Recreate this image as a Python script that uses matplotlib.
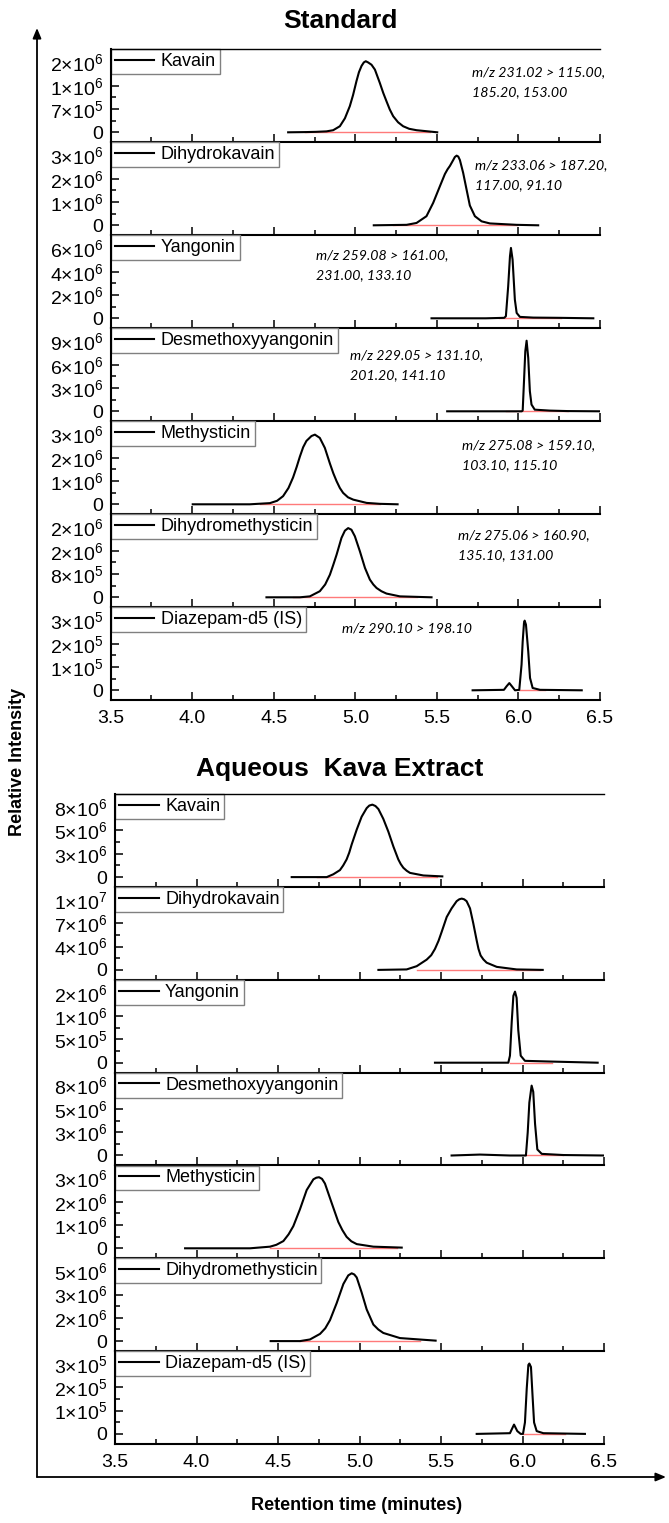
import numpy as np
import matplotlib
matplotlib.use("Agg")
import matplotlib.pyplot as plt
from matplotlib.patches import FancyArrowPatch
from matplotlib.ticker import FixedLocator, MultipleLocator

plt.rcParams['font.family'] = ['Liberation Sans', 'DejaVu Sans']
plt.rcParams['mathtext.fontset'] = 'custom'
plt.rcParams['mathtext.rm'] = 'Liberation Sans'
plt.rcParams['mathtext.it'] = 'Liberation Sans:italic'
plt.rcParams['mathtext.bf'] = 'Liberation Sans:bold'

# ---------------- data ----------------
compounds = ['Kavain', 'Dihydrokavain', 'Yangonin', 'Desmethoxyyangonin',
             'Methysticin', 'Dihydromethysticin', 'Diazepam-d5 (IS)']
section_titles = ['Standard', 'Aqueous  Kava Extract']
x_ticklabels = ['3.5', '4.0', '4.5', '5.0', '5.5', '6.0', '6.5']

# intensity per y-tick step for each panel
std_steps = [7e5, 1e6, 2e6, 3e6, 1e6, 8e5, 1e5]
ext_steps = [2.7e6, 3.5e6, 5.2e5, 2.7e6, 1e6, 1.7e6, 1e5]

std_yticklabels = [['0', '7×10^5', '1×10^6', '2×10^6'],
                   ['0', '1×10^6', '2×10^6', '3×10^6'],
                   ['0', '2×10^6', '4×10^6', '6×10^6'],
                   ['0', '3×10^6', '6×10^6', '9×10^6'],
                   ['0', '1×10^6', '2×10^6', '3×10^6'],
                   ['0', '8×10^5', '2×10^6', '2×10^6'],
                   ['0', '1×10^5', '2×10^5', '3×10^5']]
ext_yticklabels = [['0', '3×10^6', '5×10^6', '8×10^6'],
                   ['0', '4×10^6', '7×10^6', '1×10^7'],
                   ['0', '5×10^5', '1×10^6', '2×10^6'],
                   ['0', '3×10^6', '5×10^6', '8×10^6'],
                   ['0', '1×10^6', '2×10^6', '3×10^6'],
                   ['0', '2×10^6', '3×10^6', '5×10^6'],
                   ['0', '1×10^5', '2×10^5', '3×10^5']]

# retention time (min) and intensity (in tick steps)
kav_std_x = [4.588, 4.70, 4.76, 4.823, 4.864, 4.905, 4.936, 4.966, 4.986, 5.007, 5.022, 5.038, 5.052,
             5.064, 5.078, 5.099, 5.120, 5.150, 5.171, 5.191, 5.211, 5.232, 5.262, 5.293, 5.33,
             5.375, 5.502]
kav_std_y = [0.0, 0.01, 0.02, 0.04, 0.09, 0.26, 0.6, 1.12, 1.6, 2.2, 2.58, 2.85, 3.0,
             3.05, 3.0, 2.9, 2.69, 2.12, 1.69, 1.33, 0.98, 0.69, 0.43, 0.26, 0.15,
             0.09, 0.0]
dhk_std_x = [5.113, 5.314, 5.375, 5.436, 5.477, 5.518, 5.549, 5.565, 5.580, 5.600, 5.610, 5.621,
             5.631, 5.641, 5.661, 5.682, 5.702, 5.733, 5.774, 5.825, 5.989, 6.121]
dhk_std_y = [0.0, 0.02, 0.1, 0.39, 0.96, 1.67, 2.2, 2.4, 2.55, 2.8, 2.93, 2.99,
             2.95, 2.8, 2.25, 1.53, 0.85, 0.39, 0.17, 0.08, 0.02, 0.0]
yan_std_x = [5.467, 5.80, 5.913, 5.923, 5.937, 5.948, 5.954, 5.964, 5.978, 5.989, 6.009, 6.091, 6.25, 6.459]
yan_std_y = [0.0, 0.0, 0.02, 0.09, 1.37, 2.66, 3.02, 2.52, 0.8, 0.23, 0.06, 0.03, 0.02, 0.0]
dmy_std_x = [5.563, 5.90, 6.020, 6.026, 6.034, 6.042, 6.050, 6.060, 6.070, 6.080, 6.100, 6.192, 6.30, 6.50]
dmy_std_y = [0.0, 0.0, 0.0, 0.03, 1.29, 2.58, 3.03, 2.29, 0.86, 0.29, 0.07, 0.03, 0.01, 0.0]
met_std_x = [4.003, 4.353, 4.476, 4.52, 4.557, 4.59, 4.618, 4.64, 4.66, 4.68, 4.70, 4.731, 4.752,
             4.782, 4.813, 4.844, 4.865, 4.885, 4.905, 4.925, 4.955, 4.987, 5.069, 5.15, 5.259]
met_std_y = [0.0, 0.0, 0.05, 0.15, 0.35, 0.7, 1.15, 1.6, 2.05, 2.45, 2.72, 2.93, 2.99,
             2.85, 2.42, 1.75, 1.33, 0.99, 0.7, 0.49, 0.3, 0.2, 0.06, 0.02, 0.0]
dhm_std_x = [4.455, 4.66, 4.721, 4.782, 4.815, 4.844, 4.865, 4.885, 4.915, 4.936, 4.956, 4.976,
             4.997, 5.028, 5.059, 5.089, 5.11, 5.130, 5.16, 5.191, 5.273, 5.467]
dhm_std_y = [0.0, 0.0, 0.04, 0.26, 0.55, 0.97, 1.4, 1.83, 2.55, 2.86, 2.97, 2.9,
             2.62, 1.97, 1.26, 0.76, 0.55, 0.40, 0.26, 0.16, 0.04, 0.0]
dia_std_x = [5.719, 5.911, 5.927, 5.944, 5.960, 5.979, 6.005, 6.019, 6.026, 6.034, 6.038, 6.046,
             6.060, 6.071, 6.087, 6.132, 6.388]
dia_std_y = [0.0, 0.02, 0.17, 0.31, 0.17, 0.0, 0.02, 1.1, 2.1, 2.89, 2.99, 2.82,
             1.67, 0.53, 0.1, 0.02, 0.0]

kav_ext_x = [4.584, 4.799, 4.839, 4.880, 4.90, 4.921, 4.937, 4.952, 4.983, 5.013, 5.044, 5.060,
             5.079, 5.098, 5.116, 5.146, 5.177, 5.208, 5.238, 5.253, 5.269, 5.29, 5.310, 5.392, 5.508]
kav_ext_y = [0.0, 0.0, 0.12, 0.30, 0.5, 0.76, 1.05, 1.40, 2.04, 2.59, 2.96, 3.07,
             3.11, 3.05, 2.92, 2.50, 1.95, 1.31, 0.76, 0.56, 0.40, 0.27, 0.18, 0.07, 0.03]
dhk_ext_x = [5.116, 5.289, 5.351, 5.412, 5.44, 5.463, 5.485, 5.504, 5.535, 5.565, 5.596, 5.612,
             5.627, 5.642, 5.657, 5.678, 5.698, 5.719, 5.73, 5.743, 5.76, 5.780, 5.842, 5.964, 6.124]
dhk_ext_y = [0.0, 0.02, 0.16, 0.44, 0.63, 0.90, 1.25, 1.63, 2.27, 2.64, 2.95, 3.03,
             3.06, 3.03, 2.95, 2.64, 2.0, 1.26, 0.9, 0.62, 0.45, 0.31, 0.13, 0.02, 0.0]
yan_ext_x = [5.463, 5.913, 5.923, 5.934, 5.944, 5.954, 5.964, 5.974, 5.989, 6.015, 6.169, 6.461]
yan_ext_y = [0.0, 0.0, 0.30, 1.77, 2.87, 3.05, 2.78, 1.40, 0.30, 0.08, 0.05, 0.0]
dmy_ext_x = [5.565, 5.739, 5.923, 6.021, 6.032, 6.042, 6.056, 6.066, 6.077, 6.091, 6.118, 6.251, 6.50]
dmy_ext_y = [0.0, 0.04, 0.0, 0.0, 0.99, 2.27, 3.0, 2.73, 1.36, 0.26, 0.07, 0.02, 0.0]
met_ext_x = [3.93, 4.328, 4.451, 4.49, 4.533, 4.565, 4.594, 4.635, 4.676, 4.717, 4.735, 4.752,
             4.77, 4.788, 4.829, 4.870, 4.895, 4.921, 4.95, 4.983, 5.085, 5.259]
met_ext_y = [0.0, 0.0, 0.07, 0.15, 0.31, 0.6, 0.95, 1.68, 2.50, 2.96, 3.03, 3.05,
             2.98, 2.78, 1.95, 1.13, 0.78, 0.49, 0.3, 0.18, 0.07, 0.03]
dhm_ext_x = [4.455, 4.635, 4.696, 4.758, 4.79, 4.819, 4.860, 4.901, 4.931, 4.952, 4.968, 4.983,
             5.013, 5.044, 5.085, 5.115, 5.146, 5.248, 5.467]
dhm_ext_y = [0.0, 0.0, 0.07, 0.31, 0.55, 0.90, 1.63, 2.45, 2.82, 2.91, 2.86, 2.73,
             2.09, 1.36, 0.71, 0.5, 0.35, 0.13, 0.02]
dia_ext_x = [5.719, 5.923, 5.948, 5.968, 5.989, 6.003, 6.015, 6.026, 6.036, 6.042, 6.052, 6.062,
             6.071, 6.087, 6.128, 6.383]
dia_ext_y = [0.0, 0.03, 0.40, 0.12, 0.0, 0.0, 0.49, 1.95, 2.96, 3.02, 2.87, 1.59,
             0.49, 0.12, 0.03, 0.0]

std_traces = [(kav_std_x, kav_std_y), (dhk_std_x, dhk_std_y), (yan_std_x, yan_std_y),
              (dmy_std_x, dmy_std_y), (met_std_x, met_std_y), (dhm_std_x, dhm_std_y),
              (dia_std_x, dia_std_y)]
ext_traces = [(kav_ext_x, kav_ext_y), (dhk_ext_x, dhk_ext_y), (yan_ext_x, yan_ext_y),
              (dmy_ext_x, dmy_ext_y), (met_ext_x, met_ext_y), (dhm_ext_x, dhm_ext_y),
              (dia_ext_x, dia_ext_y)]

# integration baselines (start, end retention time)
std_baselines = [(4.69, 5.455), (5.232, 5.989), (5.88, 6.26), (5.926, 6.304),
                 (4.415, 5.15), (4.62, 5.375), (6.005, 6.16)]
ext_baselines = [(4.738, 5.478), (5.351, 6.108), (5.923, 6.18), (6.015, 6.251),
                 (4.451, 5.227), (4.635, 5.371), (6.0, 6.26)]

# MRM transitions (standard only)
transitions = [("m/z 231.02 > 115.00,", "185.20, 153.00"),
               ("m/z 233.06 > 187.20,", "117.00, 91.10"),
               ("m/z 259.08 > 161.00,", "231.00, 133.10"),
               ("m/z 229.05 > 131.10,", "201.20, 141.10"),
               ("m/z 275.08 > 159.10,", "103.10, 115.10"),
               ("m/z 275.06 > 160.90,", "135.10, 131.00"),
               ("m/z 290.10 > 198.10", "")]

# ---------------- layout (pixels) ----------------
W, H = 669, 1523
fig = plt.figure(figsize=(W / 100, H / 100), dpi=100)

sections = [dict(left=110.7, right=600.0, top=49.3, ph=93.0),
            dict(left=115.0, right=604.0, top=794.3, ph=92.8)]
unit_px = 23.3
note_pos = [(472, 71.7), (475, 165), (316, 255), (350, 355),
            (462, 445), (458, 535), (342, 628.3)]


def fmt(s):
    if '×10^' in s:
        m, e = s.split('×10^')
        return r'$\mathregular{%s{\times}10^{%s}}$' % (m, e)
    return s


all_steps = [std_steps, ext_steps]
all_labels = [std_yticklabels, ext_yticklabels]
all_traces = [std_traces, ext_traces]
all_bases = [std_baselines, ext_baselines]

for s, sec in enumerate(sections):
    for i in range(7):
        top = sec['top'] + sec['ph'] * i
        rect = [sec['left'] / W, 1 - (top + sec['ph']) / H,
                (sec['right'] - sec['left']) / W, sec['ph'] / H]
        ax = fig.add_axes(rect)
        ax.set_facecolor('none')
        step = all_steps[s][i]
        x, y = all_traces[s][i]
        b0, b1 = all_bases[s][i]
        ax.plot([b0, b1], [0, 0], color='#ff7a7a', lw=1.0, zorder=1.5)
        ln, = ax.plot(x, np.asarray(y) * step, color='black', lw=1.5, zorder=2,
                      solid_joinstyle='round')
        ax.set_xlim(3.5, 6.5)
        lo = -10 / unit_px
        hi = (sec['ph'] - 10) / unit_px
        ax.set_ylim(lo * step, hi * step)
        ax.yaxis.set_major_locator(FixedLocator([0, step, 2 * step, 3 * step]))
        ax.yaxis.set_minor_locator(FixedLocator([0.5 * step, 1.5 * step, 2.5 * step]))
        ax.set_yticklabels([fmt(t) for t in all_labels[s][i]])
        ax.xaxis.set_major_locator(MultipleLocator(0.5))
        ax.xaxis.set_minor_locator(MultipleLocator(0.25))
        ax.tick_params(which='both', direction='in', top=False, right=False, color='black')
        ax.tick_params(which='major', length=6, width=1.1)
        ax.tick_params(which='minor', length=3.5, width=1.1)
        ax.tick_params(axis='y', which='major', labelsize=14, pad=5.5)
        ax.tick_params(axis='x', which='major', labelsize=14, pad=7)
        if i == 6:
            ax.set_xticks(np.arange(3.5, 6.51, 0.5))
            ax.set_xticklabels(x_ticklabels)
        else:
            ax.tick_params(axis='x', labelbottom=False)
        for side in ['left', 'bottom']:
            ax.spines[side].set_linewidth(1.5)
        ax.spines['right'].set_visible(False)
        if i == 0:
            ax.spines['top'].set_linewidth(1.0)
        else:
            ax.spines['top'].set_visible(False)
        leg = ax.legend(handles=[ln], labels=[compounds[i]], loc='upper left',
                        bbox_to_anchor=(0, 1), borderaxespad=0, fontsize=13,
                        frameon=True, fancybox=False, framealpha=1,
                        edgecolor='#808080', handlelength=2.2, handletextpad=0.35,
                        borderpad=0.22)
        leg.get_frame().set_linewidth(1.0)
        leg.set_zorder(2.4)
        if s == 0:
            l1, l2 = transitions[i]
            nx, ny = note_pos[i]
            fig.text(nx / W, 1 - ny / H, l1, fontsize=10.2, style='italic',
                     family=['Lato', 'DejaVu Sans'], ha='left', va='center')
            if l2:
                fig.text(nx / W, 1 - (ny + 20.5) / H, l2, fontsize=10.2, style='italic',
                         family=['Lato', 'DejaVu Sans'], ha='left', va='center')

fig.text(340 / W, 1 - 21 / H, section_titles[0], fontsize=19, fontweight='bold',
         ha='center', va='center')
fig.text(340 / W, 1 - 769 / H, section_titles[1], fontsize=19, fontweight='bold',
         ha='center', va='center')
fig.text(357 / W, 1 - 1505 / H, 'Retention time (minutes)', fontsize=13, fontweight='bold',
         ha='center', va='center')
fig.text(18 / W, 1 - 762 / H, 'Relative Intensity', fontsize=13, fontweight='bold',
         ha='center', va='center', rotation=90)

# big axis arrows
ox, oy = 37 / W, 1 - 1477 / H
fig.add_artist(FancyArrowPatch((ox, oy), (ox, 1 - 28 / H), transform=fig.transFigure,
                               arrowstyle='-|>,head_length=6,head_width=2.5',
                               color='black', lw=1.3, shrinkA=0, shrinkB=0))
fig.add_artist(FancyArrowPatch((ox, oy), (666 / W, oy), transform=fig.transFigure,
                               arrowstyle='-|>,head_length=6,head_width=2.5',
                               color='black', lw=1.3, shrinkA=0, shrinkB=0))

fig.savefig('out.png', dpi=100)
